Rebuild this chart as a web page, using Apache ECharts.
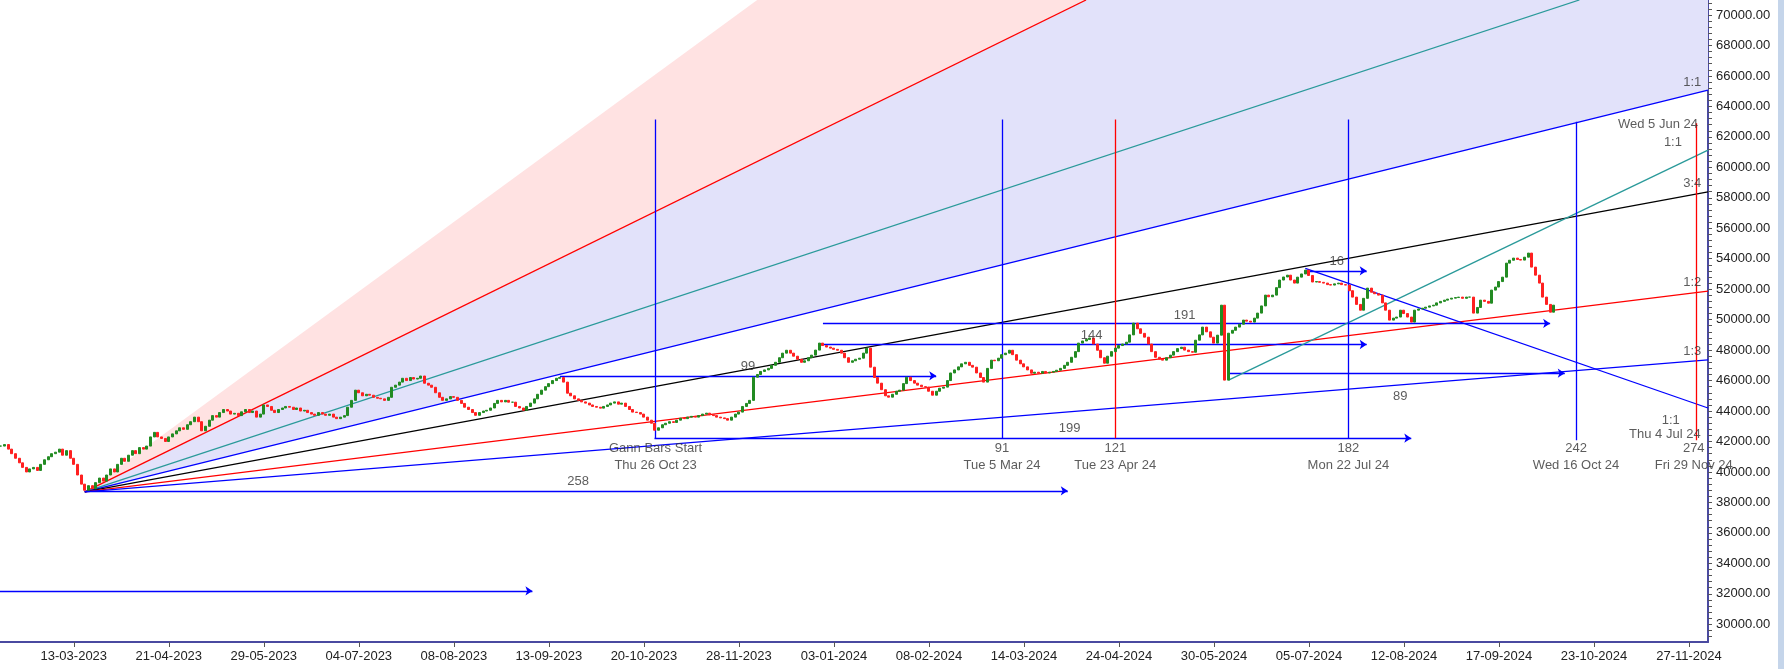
<!DOCTYPE html>
<html><head><meta charset="utf-8">
<script src="https://cdn.jsdelivr.net/npm/echarts@6/dist/echarts.min.js"></script>
<style>html,body{margin:0;padding:0;background:#fff}#c{width:1784px;height:669px}</style>
</head><body><div id="c"></div>
<script>
// daily closes, bar index -20 .. 405
const startIndex = -20;
const closes = [
41700,41800,41500,41200,40900,40600,40300,40000,40200,40300,
40100,40500,40800,41000,41200,41300,41500,41100,41400,40900,
40500,39800,39200,38800,39100,38900,39300,39600,39400,39800,
40200,40000,40500,40900,40700,41100,41400,41200,41600,41500,
41700,42300,42600,42300,42200,42000,42300,42500,42700,42900,
42800,43100,43300,43600,43300,42700,43000,43400,43700,43600,
43900,44100,44000,43800,43850,43700,43950,44100,43900,44000,
43600,43800,44400,44300,44050,43900,44100,44200,44300,44250,
44100,44200,44000,44050,43900,43800,43720,43900,43800,43720,
43800,43600,43500,43600,43700,44250,44700,45370,45200,45000,
45100,45040,44900,44840,44800,44700,44900,45560,45700,45900,
46150,46000,46200,46100,46150,46300,45825,45700,45560,45200,
44900,44700,44800,44950,44900,44700,44500,44250,44100,43900,
43720,43900,44000,44050,44200,44500,44700,44600,44700,44580,
44580,44300,44200,44050,44300,44520,44800,45100,45370,45600,
45800,46000,46150,46200,45900,45170,45000,44800,44700,44600,
44520,44400,44300,44250,44190,44300,44400,44520,44600,44450,
44520,44300,44100,43930,43900,43800,43600,43400,43200,42740,
42900,43100,43200,43300,43250,43400,43530,43500,43600,43650,
43600,43700,43800,43860,43750,43700,43600,43550,43500,43400,
43600,43800,43930,44300,44500,44700,46220,46400,46600,46700,
46800,47000,47200,47500,47800,47990,47800,47600,47400,47200,
47300,47500,47670,48000,48460,48300,48200,48130,48050,47990,
47800,47500,47200,47300,47400,47470,47800,48130,46880,46200,
45830,45400,45000,44910,45100,45300,45370,45800,46220,46000,
45830,45700,45600,45570,45300,45040,45300,45500,45570,46000,
46500,46700,46900,47100,47200,47000,46880,46500,46200,45900,
46800,47340,47300,47470,47700,47800,47990,47700,47340,47100,
46900,46700,46480,46550,46480,46600,46500,46550,46600,46680,
46800,47000,47200,47530,47900,48460,48600,48700,48790,48400,
47990,47500,47140,47600,47900,48130,48300,48400,48520,49000,
49770,49400,49100,48850,48400,47900,47530,47400,47340,47500,
47670,47900,48100,48190,48000,47900,47860,48650,49000,49510,
49200,48850,48460,48980,50950,46030,49110,49300,49510,49700,
49970,49900,49840,50100,50430,50900,51610,51500,51610,52100,
52600,52800,52920,52600,52400,52790,53000,53250,52900,52470,
52500,52450,52400,52300,52270,52350,52400,52300,52270,51900,
51480,51000,50620,51400,52070,51800,51700,51610,51100,50620,
49970,50100,50170,50620,50400,50170,49840,50620,50700,50750,
50820,50900,50950,51100,51200,51280,51350,51410,51450,51480,
51400,51480,51480,50430,50800,51280,51200,51080,51940,52140,
52500,52790,53710,53900,54040,53950,53910,54100,54370,53450,
52920,52400,51480,51000,50490,50950
];
const xTickLabels = ['13-03-2023','21-04-2023','29-05-2023','04-07-2023','08-08-2023','13-09-2023','20-10-2023','28-11-2023','03-01-2024','08-02-2024','14-03-2024','24-04-2024','30-05-2024','05-07-2024','12-08-2024','17-09-2024','23-10-2024','27-11-2024'];
const xTickStep = 26;
const yTickValues = [30000,32000,34000,36000,38000,40000,42000,44000,46000,48000,50000,52000,54000,56000,58000,60000,62000,64000,66000,68000,70000];
const pivot = [3, 38690];
const topPrice = 70985;
// fan lines from pivot: [endIdx, endPrice, color]
const fanLines = [
  [277, topPrice, '#ff0000'],
  [412, topPrice, '#2a9a9a'],
  [447.2, 65074, '#0000ff'],
  [447.2, 58394, '#000000'],
  [447.2, 51870, '#ff0000'],
  [447.2, 47364, '#0000ff']
];
// other segments: [x1,y1,x2,y2,color,arrow]
const segments = [
  [-20.2,32190,125.5,32190,'#0000ff',1],
  [3,38760,272,38760,'#0000ff',1],
  [158.9,42218,366,42218,'#0000ff',1],
  [133,46310,236,46310,'#0000ff',1],
  [204,48370,353.8,48370,'#0000ff',1],
  [205,49750,404,49750,'#0000ff',1],
  [316,46485,408,46485,'#0000ff',1],
  [337,53205,353.8,53205,'#0000ff',1],
  [316,46030,447.2,61133,'#2a9a9a',0],
  [337,53360,447.2,44200,'#0000ff',0],
  [316,46030,316,46485,'#0000ff',0],
  [159.2,63136,159.2,42218,'#0000ff',0],
  [254,63136,254,42218,'#0000ff',0],
  [285,63136,285,42218,'#ff0000',0],
  [348.8,63136,348.8,42218,'#0000ff',0],
  [411.1,62990,411.1,42085,'#0000ff',0],
  [444.1,62900,444.1,42085,'#ff0000',0]
];
// text labels: [idx, price, text]
const texts = [
  [159.2,41560,'Gann Bars Start'],[159.2,40443,'Thu 26 Oct 23'],
  [254,41560,'91'],[254,40443,'Tue 5 Mar 24'],
  [285,41560,'121'],[285,40443,'Tue 23 Apr 24'],
  [348.8,41560,'182'],[348.8,40443,'Mon 22 Jul 24'],
  [411.1,41560,'242'],[411.1,40443,'Wed 16 Oct 24'],
  [443.3,41560,'274'],[443.3,40443,'Fri 29 Nov 24'],
  [138,39390,'258'],[272.5,42874,'199'],[184.5,46946,'99'],
  [278.5,48980,'144'],[304,50295,'191'],[363,44975,'89'],[345.6,53796,'16'],
  [433.5,62840,'Wed 5 Jun 24'],[437.6,61660,'1:1'],[442.9,65600,'1:1'],
  [442.9,58966,'3:4'],[442.9,52463,'1:2'],[442.9,47890,'1:3'],
  [437,43400,'1:1'],[435.4,42480,'Thu 4 Jul 24']
];
const pinkEdge = [187, topPrice];

const ohlc = closes.map((c,i)=>{const o=i?closes[i-1]:c;return [startIndex+i,o,c,Math.min(o,c),Math.max(o,c)];});
const xVals = xTickLabels.map((_,i)=>i*xTickStep);
const yTicks=[];for(let v=28800;v<=71000;v+=400)yTicks.push(v);
const font='Liberation Sans';
const lineData=[];
fanLines.forEach(f=>lineData.push({coords:[pivot,[f[0],f[1]]],lineStyle:{color:f[2]},symbol:['none','none']}));
segments.forEach(s=>lineData.push({coords:[[s[0],s[1]],[s[2],s[3]]],lineStyle:{color:s[4]},symbol:s[5]?['none','arrow']:['none','none'],symbolSize:7}));
const polys=[
  {pts:[pivot,pinkEdge,[fanLines[0][0],topPrice]],color:'#ffe2e2'},
  {pts:[pivot,[fanLines[0][0],topPrice],[447.2,topPrice],[fanLines[2][0],fanLines[2][1]]],color:'#e2e2fa'}
];
const chart=echarts.init(document.getElementById('c'));
chart.setOption({
  animation:false,
  grid:{left:0,right:76,top:0,bottom:27},
  xAxis:{type:'value',min:-20.2,max:447.2,
    axisLine:{onZero:false,lineStyle:{color:'#4a4aa0',width:2}},
    axisTick:{customValues:xVals,length:5,lineStyle:{color:'#555'}},
    axisLabel:{customValues:xVals,formatter:v=>xTickLabels[Math.round(v/xTickStep)]||'',color:'#222',fontFamily:font,fontSize:13,margin:8},
    splitLine:{show:false}},
  yAxis:{type:'value',position:'right',min:28837,max:topPrice,
    axisLine:{show:true,onZero:false,lineStyle:{color:'#4a4aa0',width:2}},
    axisTick:{show:true,customValues:yTicks,length:4,lineStyle:{color:'#555'}},
    axisLabel:{customValues:yTickValues,formatter:v=>v.toFixed(2),color:'#222',fontFamily:font,fontSize:13,margin:8},
    splitLine:{show:false}},
  series:[
    {type:'custom',clip:true,z:1,data:[0,1],renderItem:(p,api)=>{const d=polys[p.dataIndex];return {type:'polygon',shape:{points:d.pts.map(q=>api.coord(q))},style:{fill:d.color}};}},
    {type:'lines',coordinateSystem:'cartesian2d',z:3,clip:true,lineStyle:{width:1.3,opacity:1},data:lineData},
    {type:'candlestick',z:4,barWidth:2.5,data:ohlc,itemStyle:{color:'#228b22',color0:'#ff2020',borderColor:'#228b22',borderColor0:'#ff2020',borderWidth:1}},
    {type:'scatter',z:5,symbolSize:0,data:texts.map(t=>({value:[t[0],t[1]],name:t[2]})),
     label:{show:true,position:'inside',formatter:p=>p.name,color:'#333',fontFamily:font,fontSize:13}}
  ],
  graphic:[{type:'rect',shape:{x:1778,y:0,width:6,height:669},style:{fill:'#c5d5ea'}}]
});
</script></body></html>
